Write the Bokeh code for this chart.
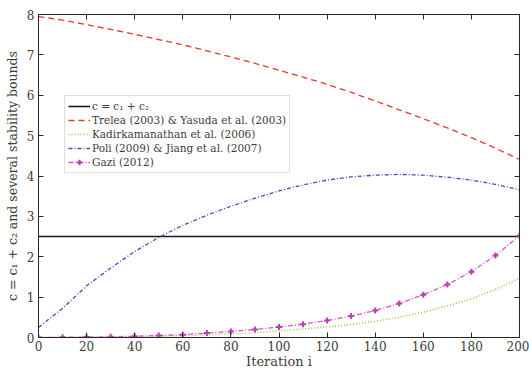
from bokeh.plotting import figure
from bokeh.models import Legend, LegendItem, LinearAxis, FixedTicker, Range1d
from bokeh.embed import file_html
from bokeh.resources import INLINE

iteration = [0, 10, 20, 30, 40, 50, 60, 70, 80, 90, 100, 110, 120, 130, 140, 150, 160, 170, 180, 190, 200]
c_sum = 2.5
trelea = [7.95, 7.86, 7.75, 7.63, 7.51, 7.38, 7.25, 7.10, 6.95, 6.79, 6.62, 6.45, 6.27, 6.07, 5.86, 5.64, 5.42, 5.19, 4.95, 4.69, 4.41]
kadir = [0.0, 0.002, 0.005, 0.01, 0.02, 0.03, 0.045, 0.065, 0.09, 0.12, 0.16, 0.21, 0.26, 0.32, 0.40, 0.50, 0.63, 0.78, 0.96, 1.19, 1.47]
poli = [0.25, 0.72, 1.28, 1.72, 2.13, 2.48, 2.78, 3.03, 3.25, 3.45, 3.63, 3.78, 3.90, 3.98, 4.02, 4.04, 4.02, 3.97, 3.90, 3.79, 3.66]
gazi = [0.0, 0.005, 0.01, 0.02, 0.03, 0.05, 0.07, 0.11, 0.15, 0.20, 0.26, 0.33, 0.42, 0.53, 0.67, 0.84, 1.06, 1.31, 1.63, 2.03, 2.52]
x_ticks = [0, 20, 40, 60, 80, 100, 120, 140, 160, 180, 200]
y_ticks = [0, 1, 2, 3, 4, 5, 6, 7, 8]

FONT = "DejaVu Serif"
AX = "#262626"
TXT = "#3c3c3c"

p = figure(width=529, height=373, output_backend="svg", toolbar_location=None,
           x_range=Range1d(0, 200), y_range=Range1d(0, 8),
           min_border_left=38, min_border_right=10, min_border_top=14, min_border_bottom=36,
           x_axis_location=None, y_axis_location=None)
p.xgrid.visible = False
p.ygrid.visible = False
p.outline_line_color = AX
p.outline_line_width = 1
p.background_fill_color = "white"
p.border_fill_color = "white"

def mk_axis(kw, ticks, labels):
    ax = LinearAxis(ticker=FixedTicker(ticks=ticks), **kw)
    ax.axis_line_color = AX
    ax.major_tick_line_color = AX
    ax.minor_tick_line_color = None
    ax.major_tick_in = 5
    ax.major_tick_out = 0
    ax.major_label_text_font = FONT
    ax.major_label_text_color = TXT
    ax.axis_label_text_font = FONT
    ax.axis_label_text_color = TXT
    ax.axis_label_text_font_style = "normal"
    if not labels:
        ax.major_label_overrides = {t: "" for t in ticks}
        ax.major_label_standoff = 0
    return ax

xb = mk_axis(dict(axis_label="Iteration i"), x_ticks, True)
xb.major_label_text_font_size = "12px"
xb.axis_label_text_font_size = "13px"
xb.major_label_standoff = 3
xb.axis_label_standoff = 0
p.add_layout(xb, "below")

yl = mk_axis(dict(axis_label="c = c\u2081 + c\u2082 and several stability bounds"), y_ticks, True)
yl.major_label_text_font_size = "12px"
yl.axis_label_text_font_size = "12.5px"
yl.major_label_standoff = 4
yl.axis_label_standoff = 4
p.add_layout(yl, "left")

xt = mk_axis({}, x_ticks, False)
p.add_layout(xt, "above")
yr = mk_axis({}, y_ticks, False)
p.add_layout(yr, "right")

r_black = p.line([iteration[0], iteration[-1]], [c_sum, c_sum], line_color="#1a1a1a", line_width=1.6)
r_red = p.line(iteration, trelea, line_color="#e8392e", line_width=1.3, line_dash="6 4")
r_green = p.line(iteration, kadir, line_color="#8cc63f", line_width=1.5, line_dash="1 2")
r_blue = p.line(iteration, poli, line_color="#3f4fbf", line_width=1.3, line_dash="4 2 1 2")
r_mag = p.line(iteration, gazi, line_color="#d45bc4", line_width=1.3, line_dash="5 2 1 2")
r_mag_m = p.scatter(iteration, gazi, marker="cross", size=6, line_width=2, line_color="#bb3fad")

legend = Legend(items=[
    LegendItem(label="c = c\u2081 + c\u2082", renderers=[r_black]),
    LegendItem(label="Trelea (2003) & Yasuda et al. (2003)", renderers=[r_red]),
    LegendItem(label="Kadirkamanathan et al. (2006)", renderers=[r_green]),
    LegendItem(label="Poli (2009) & Jiang et al. (2007)", renderers=[r_blue]),
    LegendItem(label="Gazi (2012)", renderers=[r_mag, r_mag_m]),
], location=(26, 164))
legend.label_text_font = FONT
legend.label_text_font_size = "10.5px"
legend.label_text_color = TXT
legend.label_standoff = 2
legend.label_height = 14
legend.glyph_width = 22
legend.glyph_height = 14
legend.spacing = 0
legend.padding = 3
legend.margin = 0
legend.border_line_color = "#bdbdbd"
legend.border_line_width = 1
legend.background_fill_alpha = 1
p.add_layout(legend, "center")

open("out.html", "w").write(file_html(p, INLINE))
